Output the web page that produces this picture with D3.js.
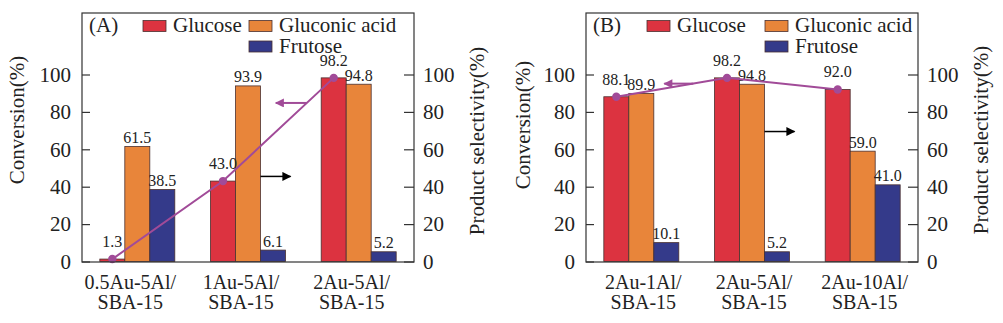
<!DOCTYPE html>
<html><head><meta charset="utf-8">
<script src="https://cdn.jsdelivr.net/npm/d3@7"></script>
<style>
body{margin:0;background:#fff}
svg{display:block}
svg text{font-family:"Liberation Serif","Times New Roman",Times,"DejaVu Serif",serif !important;fill:#222}
</style>
</head><body>
<svg id="chart" width="1003" height="323" font-family="Liberation Serif, Times New Roman, serif"></svg>
<script>
// ---------------- data ----------------
const seriesNames = ["Glucose", "Gluconic acid", "Frutose"];
const catsA = ["0.5Au-5Al/SBA-15", "1Au-5Al/SBA-15", "2Au-5Al/SBA-15"];
const catsB = ["2Au-1Al/SBA-15", "2Au-5Al/SBA-15", "2Au-10Al/SBA-15"];
const glucoseA  = [1.3, 43.0, 98.2];
const gluconicA = [61.5, 93.9, 94.8];
const frutoseA  = [38.5, 6.1, 5.2];
const glucoseB  = [88.1, 98.2, 92.0];
const gluconicB = [89.9, 94.8, 59.0];
const frutoseB  = [10.1, 5.2, 41.0];
const yTicks = [0, 20, 40, 60, 80, 100];
const panelLabels = ["(A)", "(B)"];

// ---------------- style ----------------
const colors = ["#dc3340", "#e8853a", "#343a8a"];
const lineColor = "#a14b98";
const svg = d3.select("#chart");

const defs = svg.append("defs");
function marker(id, color) {
  defs.append("marker").attr("id", id)
    .attr("viewBox", "0 0 10 10").attr("refX", 9).attr("refY", 5)
    .attr("markerUnits", "userSpaceOnUse")
    .attr("markerWidth", 11).attr("markerHeight", 9).attr("orient", "auto")
    .append("path").attr("d", "M0,0 L10,5 L0,10 Z").attr("fill", color);
}
marker("arrPurple", lineColor);
marker("arrBlack", "#000");

const panels = [
  { x0: 82, x1: 414, cats: catsA, vals: [glucoseA, gluconicA, frutoseA], label: panelLabels[0],
    catDx: -7, legX: [143, 249], leftTitle: [17, 120], rightTitle: [477, 141],
    purple: { seg: 1, t: 0.757, len: 31 }, black: { cat: 1, v: 45.5, len: 30 } },
  { x0: 586, x1: 918, cats: catsB, vals: [glucoseB, gluconicB, frutoseB], label: panelLabels[1],
    catDx: 2, legX: [647, 765], leftTitle: [523, 125], rightTitle: [981, 140],
    purple: { seg: 0, t: 0.695, len: 29 }, black: { cat: 1, v: 69.5, len: 30 } }
];

const yTop = 13, yBot = 262;
const y = d3.scaleLinear().domain([0, 100]).range([261.5, 74.5]);

panels.forEach(p => {
  const g = svg.append("g");
  const x = d3.scaleBand().domain(p.cats).range([p.x0, p.x1]).paddingInner(0.3225).paddingOuter(0.161);
  const xs = d3.scaleBand().domain(seriesNames).range([0, x.bandwidth()]);

  // bars
  seriesNames.forEach((s, si) => {
    g.selectAll(null).data(p.cats.map((c, i) => ({ c, v: p.vals[si][i] })))
      .enter().append("rect")
      .attr("x", d => x(d.c) + xs(s))
      .attr("y", d => y(d.v))
      .attr("width", xs.bandwidth())
      .attr("height", d => y(0) - y(d.v))
      .attr("fill", colors[si])
      .attr("stroke", "#4a3030").attr("stroke-width", 0.8);
  });

  // value labels
  seriesNames.forEach((s, si) => {
    g.selectAll(null).data(p.cats.map((c, i) => ({ c, v: p.vals[si][i] })))
      .enter().append("text")
      .attr("x", d => x(d.c) + xs(s) + xs.bandwidth() / 2)
      .attr("y", d => y(d.v) - (si === 0 ? 12 : 3.5))
      .attr("text-anchor", "middle")
      .attr("font-size", 16)
      .text(d => d.v.toFixed(1));
  });

  // glucose line
  const pts = p.cats.map((c, i) => [x(c) + xs(seriesNames[0]) + xs.bandwidth() / 2, y(p.vals[0][i])]);
  g.append("path").attr("d", d3.line()(pts)).attr("fill", "none")
    .attr("stroke", lineColor).attr("stroke-width", 2);
  g.selectAll(null).data(pts).enter().append("circle")
    .attr("cx", d => d[0]).attr("cy", d => d[1]).attr("r", 4.2).attr("fill", lineColor);

  // arrows
  const a = pts[p.purple.seg], b = pts[p.purple.seg + 1];
  const tx = a[0] + (b[0] - a[0]) * p.purple.t, ty = a[1] + (b[1] - a[1]) * p.purple.t;
  g.append("line").attr("x1", tx).attr("y1", ty).attr("x2", tx - p.purple.len).attr("y2", ty)
    .attr("stroke", lineColor).attr("stroke-width", 2).attr("marker-end", "url(#arrPurple)");
  const bx = x(p.cats[p.black.cat]) + xs(seriesNames[1]) + xs.bandwidth();
  g.append("line").attr("x1", bx).attr("y1", y(p.black.v)).attr("x2", bx + p.black.len).attr("y2", y(p.black.v))
    .attr("stroke", "#000").attr("stroke-width", 1.5).attr("marker-end", "url(#arrBlack)");

  // frame
  g.append("rect").attr("x", p.x0).attr("y", yTop).attr("width", p.x1 - p.x0).attr("height", yBot - yTop)
    .attr("fill", "none").attr("stroke", "#333").attr("stroke-width", 1.2);

  // axes
  const la = g.append("g").attr("transform", `translate(${p.x0},0)`)
    .call(d3.axisLeft(y).tickValues(yTicks).tickSize(-8).tickPadding(11));
  const ra = g.append("g").attr("transform", `translate(${p.x1},0)`)
    .call(d3.axisRight(y).tickValues(yTicks).tickSize(-10).tickPadding(9));
  [la, ra].forEach(ax => {
    ax.attr("font-family", null);
    ax.select(".domain").remove();
    ax.selectAll("line").attr("stroke", "#333").attr("stroke-width", 1.2);
    ax.selectAll("text").attr("font-size", 21).attr("fill", "#222");
  });

  // category labels
  const xa = g.append("g").attr("transform", `translate(0,${yBot})`)
    .call(d3.axisBottom(x).tickSize(0).tickPadding(0));
  xa.attr("font-family", null);
  xa.select(".domain").remove();
  xa.selectAll("text").each(function(d) {
    const t = d3.select(this).text("").attr("font-size", 20)
      .attr("fill", "#222").attr("dy", null).attr("y", 0);
    const parts = [d.slice(0, d.indexOf("/") + 1), d.slice(d.indexOf("/") + 1)];
    parts.forEach((s, k) => t.append("tspan").attr("x", p.catDx).attr("y", 27 + k * 20).text(s));
  });

  // axis titles
  g.append("text").attr("transform", `translate(${p.leftTitle[0]},${p.leftTitle[1]}) rotate(-90)`)
    .attr("text-anchor", "middle").attr("dy", "0.35em").attr("font-size", 21).text("Conversion(%)");
  g.append("text").attr("transform", `translate(${p.rightTitle[0]},${p.rightTitle[1]}) rotate(-90)`)
    .attr("text-anchor", "middle").attr("dy", "0.35em").attr("font-size", 21).text("Product selectivity(%)");

  // panel label + legend
  g.append("text").attr("x", p.x0 + 7).attr("y", 32).attr("font-size", 21).text(p.label);
  const legPos = [[p.legX[0], 20.5], [p.legX[1], 20.5], [p.legX[1], 41]];
  seriesNames.forEach((s, si) => {
    g.append("rect").attr("x", legPos[si][0]).attr("y", legPos[si][1]).attr("width", 23).attr("height", 11)
      .attr("fill", colors[si]).attr("stroke", "#4a3030").attr("stroke-width", 0.8);
    g.append("text").attr("x", legPos[si][0] + 30).attr("y", legPos[si][1] + 11.5)
      .attr("font-size", 21).text(s);
  });
});
</script>
</body></html>
